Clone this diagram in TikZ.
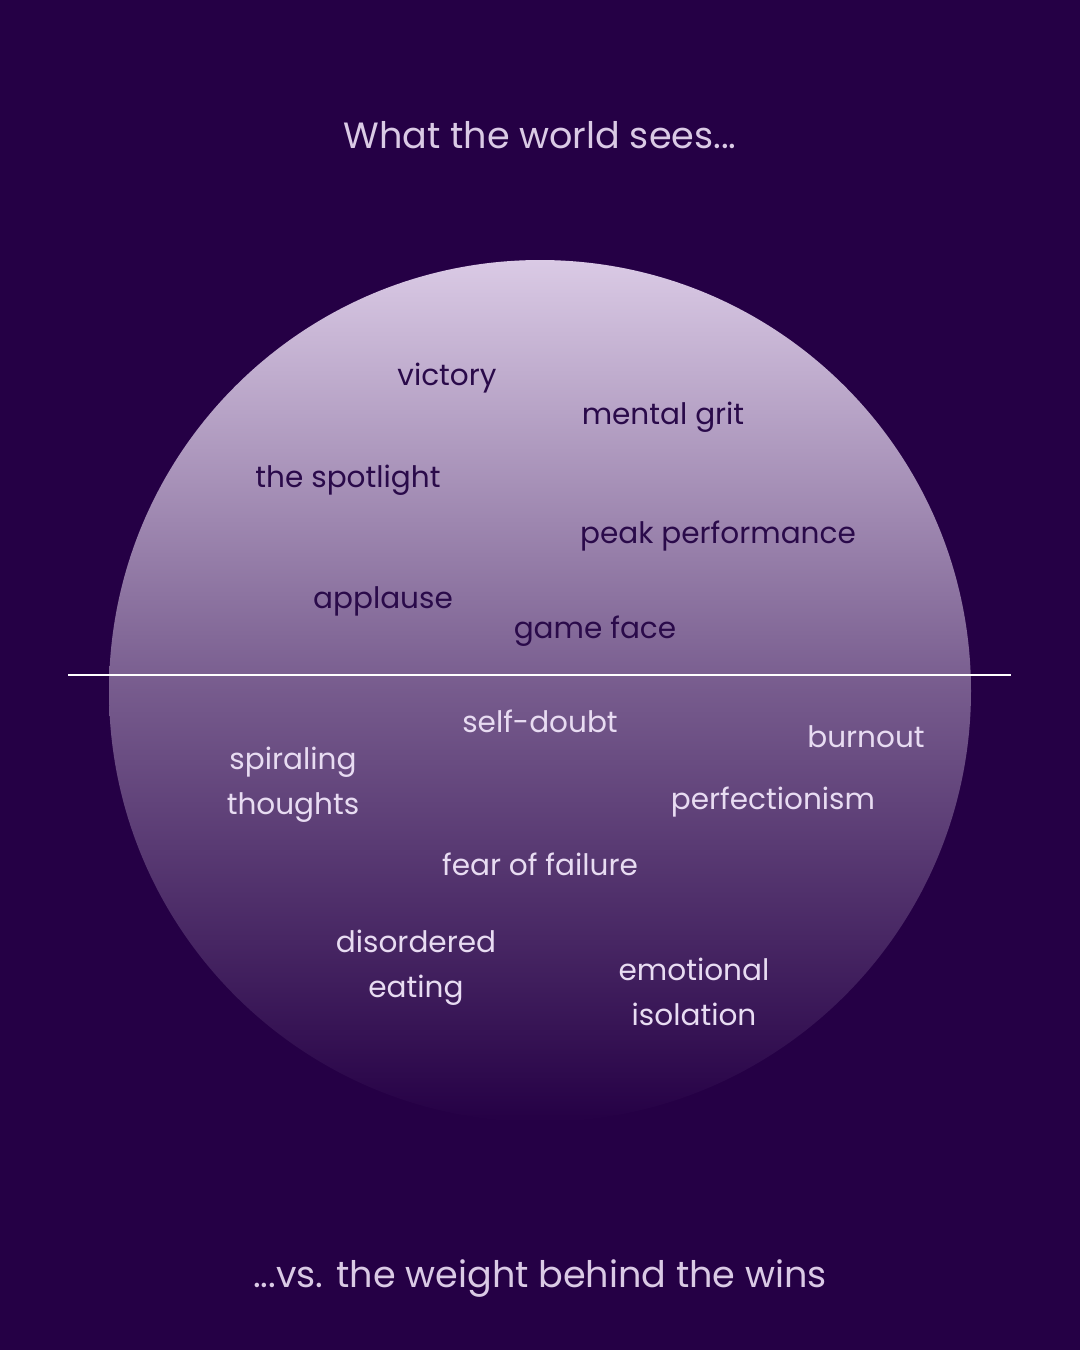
\documentclass[tikz,border=0pt]{standalone}
\usepackage{fontspec}
\setmainfont{Poppins}
\definecolor{night}{HTML}{250045}
\definecolor{lilac}{HTML}{DACAE5}
\definecolor{inkdark}{HTML}{2A0A4A}
\definecolor{inklight}{HTML}{E8DCF2}
\tikzset{
  above word/.style={text=inkdark,font=\fontsize{21}{27}\selectfont,align=center},
  below word/.style={text=inklight,font=\fontsize{21}{32}\selectfont,align=center},
  caption/.style={text=lilac,font=\fontsize{26}{32}\selectfont}
}
\begin{document}
\begin{tikzpicture}[x=0.025cm,y=-0.025cm]
    \fill[night] (0,0) rectangle (1080,1350);
    \useasboundingbox (0,0) rectangle (1080,1350);
    % the sphere
    \shade[top color=lilac,bottom color=night,middle color=lilac!45!night]
      (540,691) circle (431);
    \coordinate (left) at (68,675);
    \coordinate (right) at (1011,675);
    \draw[white,line width=1pt] (left) -- (right);
    % captions
    \node[caption] (seen) at (540,135) {What the world sees...};
    \node[caption] (weight) at (540,1279) {...vs. the weight behind the wins};
    % above the line
    \node[above word] (victory) at (447,378) {victory};
    \node[above word] (grit) at (663,417) {mental grit};
    \node[above word] (spotlight) at (348,480) {the spotlight};
    \node[above word] (peak) at (718,536) {peak performance};
    \node[above word] (applause) at (383,601) {applause};
    \node[above word] (face) at (595,631) {game face};
    % below the line
    \node[below word] (doubt) at (540,721) {self-doubt};
    \node[below word] (burnout) at (866,737) {burnout};
    \node[below word] (spiral) at (293,785) {spiraling\\thoughts};
    \node[below word] (perfect) at (773,802) {perfectionism};
    \node[below word] (fear) at (540,864) {fear of failure};
    \node[below word] (eating) at (416,968) {disordered\\eating};
    \node[below word] (isolation) at (694,992) {emotional\\isolation};
\end{tikzpicture}
\end{document}
